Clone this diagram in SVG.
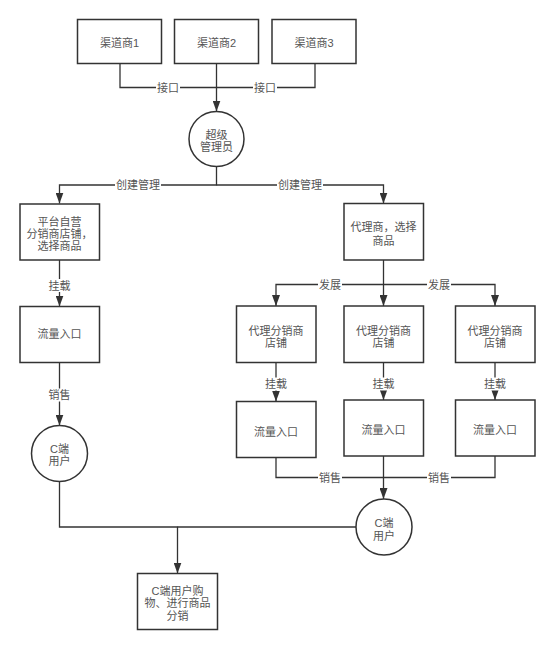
<svg xmlns="http://www.w3.org/2000/svg" width="554" height="650" viewBox="0 0 554 650">
<style>
.box{fill:#fff;stroke:#333;stroke-width:1.5}
.t{font-family:"Liberation Sans","Noto Sans CJK SC",sans-serif;font-size:11px;fill:#555;text-anchor:middle}
.c{fill:none;stroke:#333;stroke-width:1.3}
.lb{fill:#fff}
</style>
<defs>
<marker id="ah" viewBox="0 0 11 8" refX="11" refY="4" markerWidth="11" markerHeight="8" markerUnits="userSpaceOnUse" orient="auto">
<path d="M0,0 L11,4 L0,8 Z" fill="#333"/>
</marker>
</defs>
<rect width="554" height="650" fill="#fff"/>
<g id="connectors">
<path class="c" d="M120,63 V87.5 H216.5"/>
<path class="c" d="M315,63 V87.5 H216.5"/>
<path class="c" d="M216.5,63 V111.5" marker-end="url(#ah)"/>
<path class="c" d="M216.5,166.5 V185 H59.5 V203.5" marker-end="url(#ah)"/>
<path class="c" d="M216.5,185 H383.5 V203.5" marker-end="url(#ah)"/>
<path class="c" d="M59.5,260 V306.5" marker-end="url(#ah)"/>
<path class="c" d="M59.5,362.5 V425.5" marker-end="url(#ah)"/>
<path class="c" d="M383.5,260 V306" marker-end="url(#ah)"/>
<path class="c" d="M383.5,284.5 H276 V306" marker-end="url(#ah)"/>
<path class="c" d="M383.5,284.5 H495 V306" marker-end="url(#ah)"/>
<path class="c" d="M276,362.5 V401.5" marker-end="url(#ah)"/>
<path class="c" d="M383.5,362.5 V400" marker-end="url(#ah)"/>
<path class="c" d="M495,362.5 V400" marker-end="url(#ah)"/>
<path class="c" d="M383.5,456 V499" marker-end="url(#ah)"/>
<path class="c" d="M276,457.5 V477.5 H383.5"/>
<path class="c" d="M495,456 V477.5 H383.5"/>
<path class="c" d="M59.5,481.5 V527 H177.5 V573.5" marker-end="url(#ah)"/>
<path class="c" d="M356,527 H177.5"/>
<g id="labels">
<rect class="lb" x="156" y="81" width="24" height="13"/><text class="t" x="168" y="91.5">接口</text>
<rect class="lb" x="253" y="81" width="24" height="13"/><text class="t" x="265" y="91.5">接口</text>
<rect class="lb" x="115" y="178.5" width="46" height="13"/><text class="t" x="138" y="189">创建管理</text>
<rect class="lb" x="277" y="178.5" width="46" height="13"/><text class="t" x="300" y="189">创建管理</text>
<rect class="lb" x="47.5" y="279" width="24" height="13"/><text class="t" x="59.5" y="289.5">挂载</text>
<rect class="lb" x="47.5" y="388.5" width="24" height="13"/><text class="t" x="59.5" y="399">销售</text>
<rect class="lb" x="318" y="278" width="24" height="13"/><text class="t" x="330" y="288.5">发展</text>
<rect class="lb" x="427" y="278" width="24" height="13"/><text class="t" x="439" y="288.5">发展</text>
<rect class="lb" x="264" y="377.5" width="24" height="13"/><text class="t" x="276" y="388">挂载</text>
<rect class="lb" x="371.5" y="377.5" width="24" height="13"/><text class="t" x="383.5" y="388">挂载</text>
<rect class="lb" x="483" y="377.5" width="24" height="13"/><text class="t" x="495" y="388">挂载</text>
<rect class="lb" x="318" y="471" width="24" height="13"/><text class="t" x="330" y="481.5">销售</text>
<rect class="lb" x="427" y="471" width="24" height="13"/><text class="t" x="439" y="481.5">销售</text>
</g>
</g>
<g id="ch1"><rect class="box" x="77.5" y="19.5" width="84" height="44"/><text class="t" x="119.5" y="47">渠道商1</text></g>
<g id="ch2"><rect class="box" x="174.5" y="19.5" width="84" height="44"/><text class="t" x="216.5" y="47">渠道商2</text></g>
<g id="ch3"><rect class="box" x="272" y="19.5" width="84" height="44"/><text class="t" x="314" y="47">渠道商3</text></g>
<g id="admin"><circle class="box" cx="216.5" cy="139" r="27.5"/><text class="t" x="216.5" y="139">超级</text><text class="t" x="216.5" y="151">管理员</text></g>
<g id="self"><rect class="box" x="20" y="204" width="79.5" height="56"/><text class="t" x="59.5" y="225.5">平台自营</text><text class="t" x="59.5" y="237.5">分销商店铺，</text><text class="t" x="59.5" y="250">选择商品</text></g>
<g id="flow0"><rect class="box" x="20" y="306.5" width="79.5" height="56"/><text class="t" x="59.5" y="338">流量入口</text></g>
<g id="user0"><circle class="box" cx="59.5" cy="453.5" r="28"/><text class="t" x="59.5" y="453">C端</text><text class="t" x="59.5" y="465">用户</text></g>
<g id="agent"><rect class="box" x="344" y="203.5" width="79.5" height="56.5"/><text class="t" x="383.5" y="231">代理商，选择</text><text class="t" x="383.5" y="244.5">商品</text></g>
<g id="shopA"><rect class="box" x="236.5" y="306" width="79.5" height="56.5"/><text class="t" x="276" y="335">代理分销商</text><text class="t" x="276" y="347">店铺</text></g>
<g id="shopB"><rect class="box" x="344" y="306" width="79.5" height="56.5"/><text class="t" x="383.5" y="335">代理分销商</text><text class="t" x="383.5" y="347">店铺</text></g>
<g id="shopC"><rect class="box" x="455.5" y="306" width="79.5" height="56.5"/><text class="t" x="495" y="335">代理分销商</text><text class="t" x="495" y="347">店铺</text></g>
<g id="flowA"><rect class="box" x="236.5" y="401.5" width="79.5" height="56"/><text class="t" x="276" y="435.5">流量入口</text></g>
<g id="flowB"><rect class="box" x="344" y="400" width="79.5" height="56"/><text class="t" x="383.5" y="434">流量入口</text></g>
<g id="flowC"><rect class="box" x="455.5" y="400" width="79.5" height="56"/><text class="t" x="495" y="434">流量入口</text></g>
<g id="user1"><circle class="box" cx="384" cy="527" r="28"/><text class="t" x="384" y="527">C端</text><text class="t" x="384" y="539.5">用户</text></g>
<g id="final"><rect class="box" x="137.5" y="573.5" width="80" height="56"/><text class="t" x="177.5" y="594.5">C端用户购</text><text class="t" x="177.5" y="607">物、进行商品</text><text class="t" x="177.5" y="619.5">分销</text></g>
</svg>
